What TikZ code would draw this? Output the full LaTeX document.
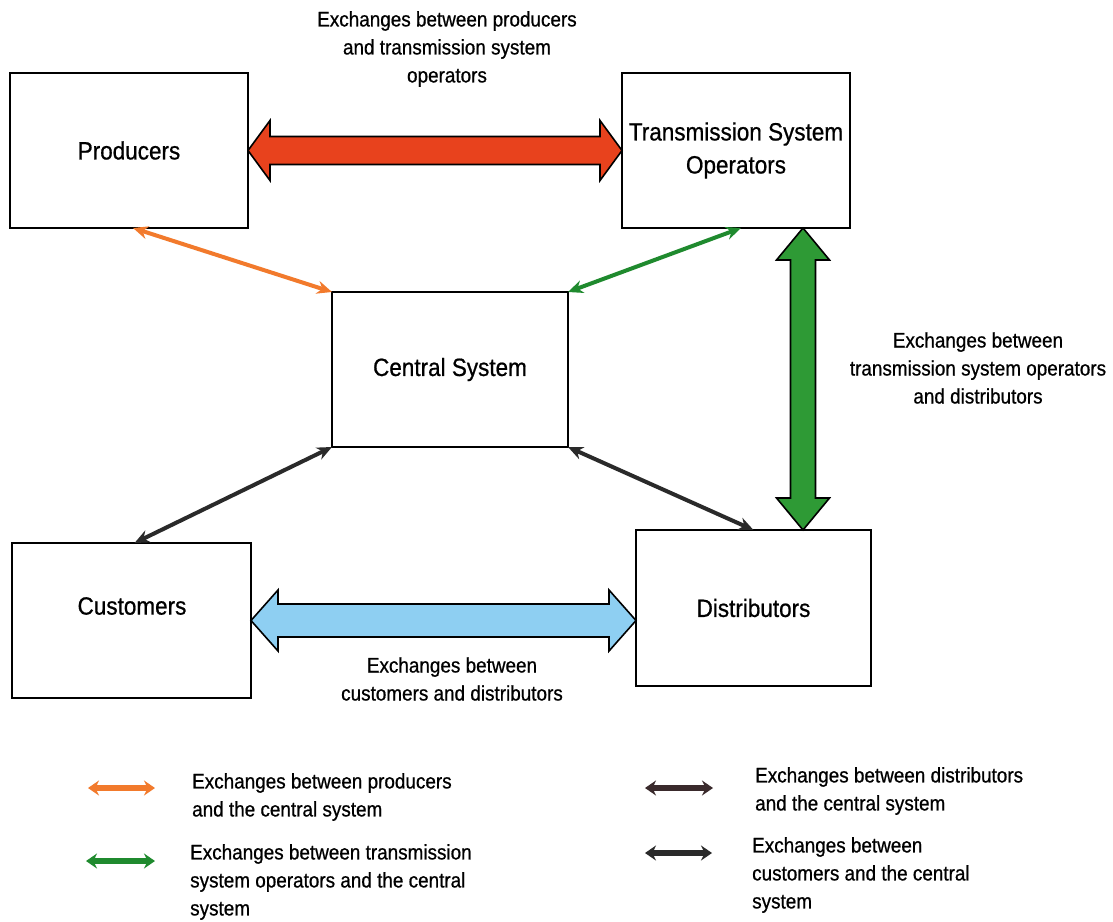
\documentclass[tikz,border=0pt]{standalone}
\usepackage{fontspec}
\setmainfont{Liberation Sans}[FakeStretch=0.9,UprightFeatures={FakeBold=0.7}]
\usetikzlibrary{calc,arrows.meta}
\definecolor{redA}{HTML}{E8421D}
\definecolor{orangeA}{HTML}{F27A2C}
\definecolor{greenA}{HTML}{2E9A35}
\definecolor{greenB}{HTML}{1F8A2E}
\definecolor{blueA}{HTML}{8ECFF2}
\definecolor{darkA}{HTML}{2A2A2A}
\definecolor{darkB}{HTML}{3A2A2C}
\begin{document}
\begin{tikzpicture}[x=1pt,y=-1pt,
  box/.style={draw=black,line width=1.8pt,rectangle,inner sep=0pt,outer sep=0pt,
    minimum width=#1,minimum height=155pt,font=\fontsize{25}{33}\selectfont,align=center},
  lbl/.style={align=center,inner sep=0pt,font=\fontsize{21}{28}\selectfont},
  leg/.style={align=left,anchor=west,inner sep=0pt,font=\fontsize{21}{28}\selectfont},
  fat/.style={draw=black,line width=1.6pt,line join=miter},
  thinarrow/.style={line width=4pt,{Stealth[length=15pt,width=13pt]}-{Stealth[length=15pt,width=13pt]}},
  legarrow/.style={line width=5.5pt,{Stealth[length=11pt,width=15pt]}-{Stealth[length=11pt,width=15pt]}}
  ]
\useasboundingbox[fill=white] (0,0) rectangle (1113,921);

% boxes
\node[box=238pt] (prod) at (129,150.5) {Producers};
\node[box=228pt] (tso) at (736,150.5) {Transmission System\\Operators};
\node[box=236pt] (cen) at (450,369.5) {Central System};
\node[box=239pt] (cust) at (131.5,620.5) {};
\node[font=\fontsize{25}{33}\selectfont,inner sep=0pt] (custtext) at (132,606) {Customers};
\node[box=235pt,minimum height=156pt] (dist) at (753.5,608) {Distributors};

% fat arrows
\path[fat,fill=redA] let \p1=(prod.east), \p2=(tso.west) in
  (\x1,\y1) -- (\x1+22pt,\y1+30pt) -- (\x1+22pt,\y1+14pt) -- (\x2-22pt,\y1+14pt)
  -- (\x2-22pt,\y1+30pt) -- (\x2,\y1) -- (\x2-22pt,\y1-30pt) -- (\x2-22pt,\y1-14pt)
  -- (\x1+22pt,\y1-14pt) -- (\x1+22pt,\y1-30pt) -- cycle;
\path[fat,fill=blueA] let \p1=(cust.east), \p2=(dist.west) in
  (\x1,\y1) -- (\x1+27pt,\y1+30.5pt) -- (\x1+27pt,\y1+16.5pt) -- (\x2-27pt,\y1+16.5pt)
  -- (\x2-27pt,\y1+30.5pt) -- (\x2,\y1) -- (\x2-27pt,\y1-30.5pt) -- (\x2-27pt,\y1-16.5pt)
  -- (\x1+27pt,\y1-16.5pt) -- (\x1+27pt,\y1-30.5pt) -- cycle;
\coordinate (gx) at (803,0);
\path[fat,fill=greenA] let \p0=(gx), \p1=(tso.south), \p2=(dist.north) in
  (\x0,\y1) -- (\x0+26.5pt,\y1-32pt) -- (\x0+12.5pt,\y1-32pt) -- (\x0+12.5pt,\y2+32pt)
  -- (\x0+26.5pt,\y2+32pt) -- (\x0,\y2) -- (\x0-26.5pt,\y2+32pt) -- (\x0-12.5pt,\y2+32pt)
  -- (\x0-12.5pt,\y1-32pt) -- (\x0-26.5pt,\y1-32pt) -- cycle;

% thin arrows
\draw[thinarrow,orangeA] ($(prod.south)+(4,0)$) -- (cen.north west);
\draw[thinarrow,greenB] ($(tso.south)+(5,0)$) -- (cen.north east);
\draw[thinarrow,darkA] (cen.south west) -- ($(cust.north)+(3,0)$);
\draw[thinarrow,darkA] (cen.south east) -- (dist.north);

% labels
\node[lbl] (l1) at (447,49) {Exchanges between producers\\and transmission system\\operators};
\node[lbl] (l2) at (978,368) {Exchanges between\\transmission system operators\\and distributors};
\node[lbl] (l3) at (452,679) {Exchanges between\\customers and distributors};

% legend
\coordinate (o1) at (88,788); \coordinate (o2) at (155,788);
\draw[legarrow,orangeA] (o1) -- (o2);
\node[leg] (t1) at (192,797) {Exchanges between producers\\and the central system};
\coordinate (g1) at (86,861); \coordinate (g2) at (155,861);
\draw[legarrow,greenB] (g1) -- (g2);
\node[leg] (t2) at (190,882) {Exchanges between transmission\\system operators and the central\\system};
\coordinate (d1) at (645,788); \coordinate (d2) at (713,788);
\draw[legarrow,darkB] (d1) -- (d2);
\node[leg] (t3) at (755,791) {Exchanges between distributors\\and the central system};
\coordinate (k1) at (645,853); \coordinate (k2) at (712,853);
\draw[legarrow,darkA] (k1) -- (k2);
\node[leg] (t4) at (752,875) {Exchanges between\\customers and the central\\system};
\end{tikzpicture}
\end{document}
